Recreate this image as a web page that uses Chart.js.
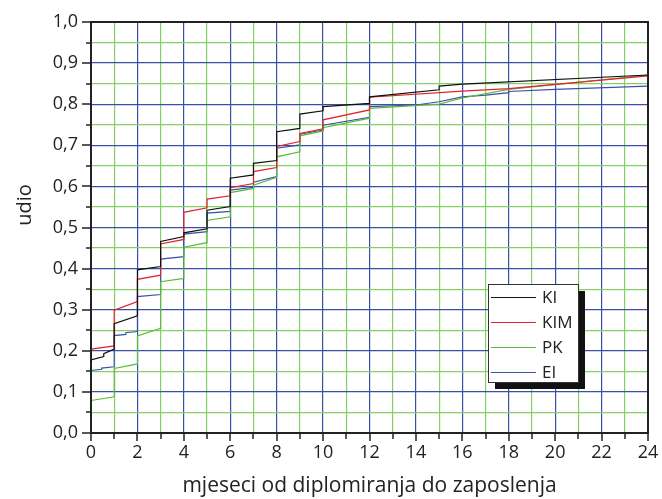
<!DOCTYPE html>
<html>
<head>
<meta charset="utf-8">
<script src="https://cdn.jsdelivr.net/npm/chart.js@4.4.1/dist/chart.umd.min.js"></script>
<style>
  html, body { margin: 0; padding: 0; background: #fff; }
  #wrap { width: 662px; height: 499px; position: relative; }
</style>
</head>
<body>
<div id="wrap"><canvas id="chart"></canvas></div>
<script>
// cumulative share employed, month by month (jumps at whole months)
const kiX = [0, 0.55, 0.55, 1, 1, 2, 2, 3, 3, 4, 4, 5, 5, 6, 6, 7, 7, 8, 8, 9, 9, 10, 10, 12, 12, 15, 15, 16, 24];
const kiY = [0.178, 0.186, 0.193, 0.204, 0.266, 0.285, 0.397, 0.405, 0.466, 0.478, 0.487, 0.497, 0.542, 0.551, 0.620, 0.628, 0.656, 0.663, 0.733, 0.741, 0.776, 0.784, 0.794, 0.802, 0.818, 0.835, 0.844, 0.849, 0.871];

const kimX = [0, 1, 1, 2, 2, 3, 3, 4, 4, 5, 5, 6, 6, 7, 7, 8, 8, 9, 9, 10, 10, 12, 12, 16, 18, 24];
const kimY = [0.204, 0.212, 0.299, 0.320, 0.374, 0.384, 0.460, 0.471, 0.537, 0.548, 0.569, 0.577, 0.597, 0.607, 0.636, 0.646, 0.697, 0.709, 0.729, 0.740, 0.762, 0.786, 0.817, 0.832, 0.838, 0.869];

const pkX = [0, 1, 1, 2, 2, 3, 3, 4, 4, 5, 5, 6, 6, 7, 7, 8, 8, 9, 9, 10, 10, 12, 12, 15, 16, 18, 24];
const pkY = [0.079, 0.088, 0.157, 0.168, 0.236, 0.255, 0.368, 0.376, 0.452, 0.463, 0.517, 0.526, 0.585, 0.595, 0.603, 0.622, 0.672, 0.684, 0.723, 0.735, 0.743, 0.766, 0.790, 0.800, 0.815, 0.836, 0.871];

const eiX = [0, 0.46, 0.46, 1, 1, 1.5, 1.5, 2, 2, 3, 3, 4, 4, 5, 5, 6, 6, 7, 7, 8, 8, 9, 9, 10, 10, 12, 12, 14, 15, 16, 17, 18, 18, 20, 24];
const eiY = [0.152, 0.155, 0.158, 0.161, 0.237, 0.240, 0.244, 0.247, 0.332, 0.337, 0.423, 0.429, 0.484, 0.490, 0.535, 0.539, 0.591, 0.598, 0.610, 0.624, 0.693, 0.701, 0.727, 0.737, 0.749, 0.768, 0.794, 0.798, 0.806, 0.818, 0.822, 0.828, 0.831, 0.836, 0.844];

const seriesNames = ['KI', 'KIM', 'PK', 'EI'];
const seriesColors = ['#111111', '#e3232c', '#5dbb3c', '#3a52a6'];

const gridBlue = '#3a50a6';
const gridGreen = '#86cf68';
const fontFam = '"Open Sans", Lato, sans-serif';

function pts(xs, ys) {
    return xs.map(function (x, i) { return { x: x, y: ys[i] }; });
}

const allData = [pts(kiX, kiY), pts(kimX, kimY), pts(pkX, pkY), pts(eiX, eiY)];

// frame, outside tick marks, y title and boxed legend with a drop shadow
const decor = {
    id: 'decor',
    afterDraw: function (chart) {
        let c = chart.ctx;
        let a = chart.chartArea;
        let xs = chart.scales.x;
        let ys = chart.scales.y;
        c.save();
        c.strokeStyle = '#222';
        c.lineWidth = 2;
        c.strokeRect(a.left, a.top, a.right - a.left, a.bottom - a.top);

        c.lineWidth = 1.5;
        c.beginPath();
        xs.ticks.forEach(function (t) {
            let px = Math.round(xs.getPixelForValue(t.value));
            let len = (Math.round(t.value) % 2 === 0) ? 8 : 6;
            c.moveTo(px, a.bottom);
            c.lineTo(px, a.bottom + len);
        });
        ys.ticks.forEach(function (t) {
            let py = Math.round(ys.getPixelForValue(t.value));
            let len = (Math.round(t.value * 20) % 2 === 0) ? 9 : 5;
            c.moveTo(a.left, py);
            c.lineTo(a.left - len, py);
        });
        c.stroke();

        // y title, sits a bit above the middle like the original
        c.save();
        c.translate(25, a.top + 183);
        c.rotate(-Math.PI / 2);
        c.font = '20px ' + fontFam;
        c.fillStyle = '#222';
        c.textAlign = 'center';
        c.textBaseline = 'middle';
        c.fillText('udio', 0, 0);
        c.restore();

        // legend
        let lx = a.right - 160, ly = a.top + 262, lw = 90, lh = 98;
        c.fillStyle = '#111';
        c.fillRect(lx + 7, ly + 7, lw, lh);
        c.fillStyle = '#fff';
        c.fillRect(lx, ly, lw, lh);
        c.strokeStyle = '#333';
        c.lineWidth = 1;
        c.strokeRect(lx + 0.5, ly + 0.5, lw, lh);
        c.font = '17px ' + fontFam;
        c.textBaseline = 'middle';
        chart.data.datasets.forEach(function (ds, i) {
            let ry = ly + 13 + i * 25;
            c.strokeStyle = ds.borderColor;
            c.beginPath();
            c.moveTo(lx + 3, ry + 0.5);
            c.lineTo(lx + 48, ry + 0.5);
            c.stroke();
            c.fillStyle = '#222';
            c.fillText(ds.label, lx + 54, ry + 1);
        });
        c.restore();
    }
};

Chart.defaults.font.family = fontFam;
Chart.defaults.color = '#222';

let ctx = document.getElementById('chart').getContext('2d');
let chart = new Chart(ctx, {
    type: 'line',
    data: {
        datasets: seriesNames.map(function (name, i) {
            return {
                label: name,
                data: allData[i],
                borderColor: seriesColors[i],
                backgroundColor: seriesColors[i],
                borderWidth: 1.2,
                pointRadius: 0,
                tension: 0,
                fill: false
            };
        })
    },
    plugins: [decor],
    options: {
        responsive: true,
        maintainAspectRatio: false,
        animation: false,
        layout: { padding: { top: 22, right: 14, left: 0, bottom: 0 } },
        plugins: {
            legend: { display: false },
            tooltip: { enabled: false }
        },
        scales: {
            x: {
                type: 'linear',
                min: 0,
                max: 24,
                afterFit: function (s) { s.height = 66; s.paddingLeft = 0; s.paddingRight = 0; },
                ticks: {
                    stepSize: 1,
                    autoSkip: false,
                    maxRotation: 0,
                    padding: 9,
                    font: { size: 18 },
                    callback: function (v) { return Math.round(v) % 2 === 0 ? String(v) : ''; }
                },
                grid: {
                    drawTicks: false,
                    lineWidth: 1.2,
                    color: function (c) { return Math.round(c.tick.value) % 2 === 0 ? gridBlue : gridGreen; }
                },
                border: { display: false },
                title: {
                    display: true,
                    text: 'mjeseci od diplomiranja do zaposlenja',
                    font: { size: 21 },
                    padding: { top: 0, bottom: 0 }
                }
            },
            y: {
                min: 0,
                max: 1,
                afterFit: function (s) { s.width = 91; s.paddingTop = 0; s.paddingBottom = 0; },
                ticks: {
                    stepSize: 0.05,
                    autoSkip: false,
                    padding: 13,
                    font: { size: 18 },
                    callback: function (v) {
                        return Math.round(v * 20) % 2 === 0 ? v.toFixed(1).replace('.', ',') : '';
                    }
                },
                grid: {
                    drawTicks: false,
                    lineWidth: 1.2,
                    color: function (c) { return Math.round(c.tick.value * 20) % 2 === 0 ? gridBlue : gridGreen; }
                },
                border: { display: false },
                title: { display: false }
            }
        }
    }
});
</script>
</body>
</html>
